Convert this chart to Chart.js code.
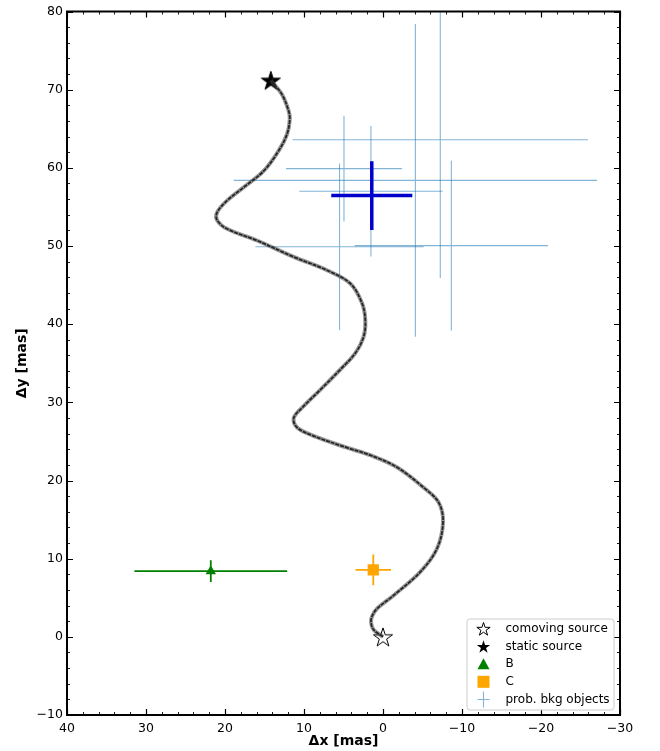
<!DOCTYPE html>
<html>
<head>
<meta charset="utf-8">
<script src="https://cdn.jsdelivr.net/npm/chart.js@4.4.1/dist/chart.umd.min.js"></script>
<style>
  html, body { margin: 0; padding: 0; background: #fff; }
  #wrap { width: 660px; height: 751px; }
</style>
</head>
<body>
<div id="wrap"><canvas id="chart" width="660" height="751"></canvas></div>
<script>
const X_MIN = -30;
const X_MAX = 40;
const Y_MIN = -10;
const Y_MAX = 80;

// track of the candidate if it were a static background source
const trackX = [0, 1.19, 1.52, 1.35, 0.76, -1.34, -4.72, -6.84, -7.6, -7.04, -5.14, -1.77, 1.5, 4.56, 8.8, 10.9,
  11.3, 10.05, 7.94, 5.4, 3.5, 2.45, 2.24, 2.66, 4.14, 7.1, 11.3, 15.95, 19.75, 21, 21, 19.75, 17.65, 15.1,
  13.2, 12.15, 11.8, 11.95, 12.8, 14.2];
const trackY = [0, 0.9, 1.9, 2.7, 3.6, 5.3, 8.3, 11.3, 14.7, 17.2, 19.1, 21.7, 23.2, 24.2, 25.7, 26.8,
  28, 29.5, 31.6, 34.2, 36.3, 38.4, 40.5, 42.7, 45.2, 46.9, 48.6, 50.7, 52.2, 53.3, 54.3, 55.8, 57.5, 59.6,
  62.2, 64.3, 66.2, 67.3, 69.4, 71.2];

const comovingX = [0];
const comovingY = [0];
const staticX = [14.2];
const staticY = [71.2];

const bX = [21.8];
const bY = [8.4];
const bXerr = [9.67];
const bYerr = [1.4];

const cX = [1.23];
const cY = [8.57];
const cXerr = [2.24];
const cYerr = [1.97];

const bkgX = [-4.1, -7.25, -8.65, 5.5, 4.94, 1.53];
const bkgY = [58.4, 63.6, 50.05, 49.9, 59.9, 57.0];
const bkgXerr = [23.0, 18.7, 12.25, 10.65, 7.34, 9.07];
const bkgYerr = [20.0, 17.7, 10.85, 10.65, 6.75, 8.35];

const meanX = [1.42];
const meanY = [56.45];
const meanXerr = [5.13];
const meanYerr = [4.4];

const legendLabels = ["comoving source", "static source", "B", "C", "prob. bkg objects"];

const FONT = "'DejaVu Sans', sans-serif";
const BKG_COLOR = "rgba(31, 119, 180, 0.55)";

function toPoints(xs, ys) {
  return xs.map((x, i) => ({ x: x, y: ys[i] }));
}

function starPath(ctx, cx, cy, r) {
  const inner = r * 0.382;
  ctx.beginPath();
  for (let i = 0; i < 10; i++) {
    const rad = (i % 2 === 0) ? r : inner;
    const a = -Math.PI / 2 + i * Math.PI / 5;
    const px = cx + rad * Math.cos(a);
    const py = cy + rad * Math.sin(a);
    if (i === 0) ctx.moveTo(px, py); else ctx.lineTo(px, py);
  }
  ctx.closePath();
}

function starImage(filled, size, r) {
  const c = document.createElement("canvas");
  c.width = size;
  c.height = size;
  const ctx = c.getContext("2d");
  starPath(ctx, size / 2, size / 2 + 1, r);
  ctx.fillStyle = filled ? "#000" : "#fff";
  ctx.fill();
  ctx.lineWidth = 1;
  ctx.strokeStyle = "#000";
  ctx.stroke();
  return c;
}

const errorSeries = [
  { x: bkgX, y: bkgY, xerr: bkgXerr, yerr: bkgYerr, color: BKG_COLOR, width: 1.1 },
  { x: meanX, y: meanY, xerr: meanXerr, yerr: meanYerr, color: "#0000cd", width: 3.5 },
  { x: bX, y: bY, xerr: bXerr, yerr: bYerr, color: "#008000", width: 1.8 },
  { x: cX, y: cY, xerr: cXerr, yerr: cYerr, color: "#ffa500", width: 1.8 },
];

const decor = {
  id: "decor",
  beforeDatasetsDraw(chart) {
    const { ctx, chartArea, scales } = chart;
    ctx.save();
    ctx.beginPath();
    ctx.rect(chartArea.left, chartArea.top, chartArea.right - chartArea.left, chartArea.bottom - chartArea.top);
    ctx.clip();
    errorSeries.forEach((s) => {
      ctx.strokeStyle = s.color;
      ctx.lineWidth = s.width;
      s.x.forEach((xv, i) => {
        const px = scales.x.getPixelForValue(xv);
        const py = scales.y.getPixelForValue(s.y[i]);
        ctx.beginPath();
        ctx.moveTo(scales.x.getPixelForValue(xv - s.xerr[i]), py);
        ctx.lineTo(scales.x.getPixelForValue(xv + s.xerr[i]), py);
        ctx.moveTo(px, scales.y.getPixelForValue(s.y[i] - s.yerr[i]));
        ctx.lineTo(px, scales.y.getPixelForValue(s.y[i] + s.yerr[i]));
        ctx.stroke();
      });
    });
    ctx.restore();
  },
  afterDraw(chart) {
    const { ctx, chartArea, scales } = chart;
    const { left, right, top, bottom } = chartArea;
    ctx.save();
    // inward ticks on all four sides
    ctx.strokeStyle = "#000";
    for (let v = X_MIN; v <= X_MAX; v += 2) {
      const major = v % 10 === 0;
      const len = major ? 6 : 3;
      const px = Math.round(scales.x.getPixelForValue(v)) + 0.5;
      ctx.lineWidth = major ? 1.2 : 0.9;
      ctx.beginPath();
      ctx.moveTo(px, bottom); ctx.lineTo(px, bottom - len);
      ctx.moveTo(px, top); ctx.lineTo(px, top + len);
      ctx.stroke();
    }
    for (let v = Y_MIN; v <= Y_MAX; v += 2) {
      const major = v % 10 === 0;
      const len = major ? 6 : 3;
      const py = Math.round(scales.y.getPixelForValue(v)) + 0.5;
      ctx.lineWidth = major ? 1.2 : 0.9;
      ctx.beginPath();
      ctx.moveTo(left, py); ctx.lineTo(left + len, py);
      ctx.moveTo(right, py); ctx.lineTo(right - len, py);
      ctx.stroke();
    }
    ctx.lineWidth = 2;
    ctx.strokeRect(left, top, right - left, bottom - top);

    // legend box in the lower right corner
    const bx = 467, by = 619, bw = 147, bh = 91;
    ctx.beginPath();
    ctx.roundRect(bx, by, bw, bh, 3);
    ctx.fillStyle = "rgba(255,255,255,0.85)";
    ctx.fill();
    ctx.lineWidth = 1;
    ctx.strokeStyle = "#cccccc";
    ctx.stroke();

    const mx = 483.5, tx = 505.5;
    const rows = [629, 646.7, 664.2, 681.8, 699.5];
    starPath(ctx, mx, rows[0] + 0.5, 7);
    ctx.fillStyle = "#fff"; ctx.fill();
    ctx.strokeStyle = "#000"; ctx.lineWidth = 1; ctx.stroke();
    starPath(ctx, mx, rows[1] + 0.5, 7);
    ctx.fillStyle = "#000"; ctx.fill();
    ctx.beginPath();
    ctx.moveTo(mx, rows[2] - 6); ctx.lineTo(mx + 6, rows[2] + 5); ctx.lineTo(mx - 6, rows[2] + 5);
    ctx.closePath();
    ctx.fillStyle = "#008000"; ctx.fill();
    ctx.fillStyle = "#ffa500";
    ctx.fillRect(mx - 6, rows[3] - 6, 12, 12);
    ctx.strokeStyle = BKG_COLOR; ctx.lineWidth = 1.1;
    ctx.beginPath();
    ctx.moveTo(mx - 6, rows[4]); ctx.lineTo(mx + 6, rows[4]);
    ctx.moveTo(mx, rows[4] - 8); ctx.lineTo(mx, rows[4] + 8);
    ctx.stroke();

    ctx.fillStyle = "#000";
    ctx.font = "12px " + FONT;
    ctx.textBaseline = "middle";
    ctx.textAlign = "left";
    legendLabels.forEach((label, i) => ctx.fillText(label, tx, rows[i]));
    ctx.restore();
  },
};

Chart.defaults.color = "#000";
Chart.defaults.font.family = FONT;

new Chart(document.getElementById("chart"), {
  type: "scatter",
  data: {
    datasets: [
      {
        label: "track band",
        data: toPoints(trackX, trackY),
        showLine: true,
        borderColor: "rgba(70,70,70,0.55)",
        borderWidth: 4,
        tension: 0.35,
        pointRadius: 0,
      },
      {
        label: "track",
        data: toPoints(trackX, trackY),
        showLine: true,
        borderColor: "#000",
        borderWidth: 1.8,
        borderDash: [4, 1],
        tension: 0.35,
        pointRadius: 0,
      },
      {
        label: "B",
        data: toPoints(bX, bY),
        pointStyle: "triangle",
        pointRadius: 6,
        backgroundColor: "#008000",
        borderColor: "#008000",
        borderWidth: 0,
      },
      {
        label: "C",
        data: toPoints(cX, cY),
        pointStyle: "rect",
        pointRadius: 8,
        backgroundColor: "#ffa500",
        borderColor: "#ffa500",
        borderWidth: 0,
      },
      {
        label: "comoving source",
        data: toPoints(comovingX, comovingY),
        pointStyle: starImage(false, 24, 10),
        pointRadius: 10,
      },
      {
        label: "static source",
        data: toPoints(staticX, staticY),
        pointStyle: starImage(true, 24, 10),
        pointRadius: 10,
      },
    ],
  },
  options: {
    responsive: false,
    animation: false,
    layout: { padding: { left: 0, right: 40, top: 10, bottom: 0 } },
    plugins: { legend: { display: false }, tooltip: { enabled: false } },
    scales: {
      x: {
        type: "linear",
        reverse: true,
        min: X_MIN,
        max: X_MAX,
        grid: { display: false, drawTicks: false },
        border: { display: false },
        ticks: {
          stepSize: 10,
          padding: 6,
          maxRotation: 0,
          autoSkip: false,
          font: { size: 12.5 },
          callback: (v) => String(v).replace("-", "\u2212"),
        },
        title: { display: true, text: "\u0394x [mas]", font: { size: 14, weight: "bold" }, padding: { top: 0, bottom: 1 } },
        afterFit: (scale) => { scale.height = 36; },
      },
      y: {
        type: "linear",
        min: Y_MIN,
        max: Y_MAX,
        grid: { display: false, drawTicks: false },
        border: { display: false },
        ticks: {
          stepSize: 10,
          padding: 4,
          font: { size: 12.5 },
          callback: (v) => String(v).replace("-", "\u2212"),
        },
        title: { display: true, text: "\u0394y [mas]", font: { size: 14, weight: "bold" }, padding: { top: 14, bottom: 0 } },
        afterFit: (scale) => { scale.width = 67; },
      },
    },
  },
  plugins: [decor],
});
</script>
</body>
</html>
